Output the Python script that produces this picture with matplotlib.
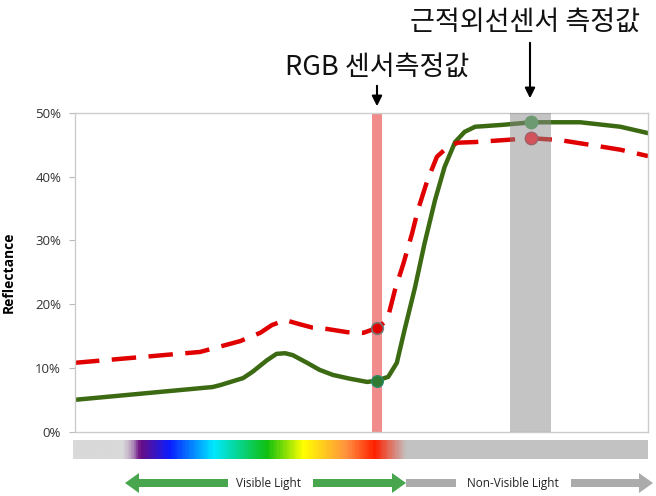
import numpy as np
import matplotlib
matplotlib.use('Agg')
import matplotlib.pyplot as plt
from matplotlib.colors import LinearSegmentedColormap
from matplotlib.patches import FancyArrow

plt.rcParams['font.family'] = ['Open Sans', 'DejaVu Sans']

# reflectance curves (wavelength nm, %)
green_wl = [400, 544, 552, 576, 586, 601, 611, 620, 628, 643, 656, 670, 688, 706, 716,
            728, 737, 745, 756, 766, 777, 787, 798, 808, 819, 829, 848, 878, 929, 971, 1000]
green_refl = [5.0, 7.0, 7.3, 8.4, 9.4, 11.2, 12.2, 12.3, 12.0, 10.8, 9.7, 8.9, 8.3, 7.8, 8.0,
              8.6, 10.8, 15.9, 22.6, 29.5, 36.3, 41.5, 45.4, 47.0, 47.8, 47.9, 48.1, 48.5, 48.5, 47.8, 46.8]

red_wl = [400, 531, 573, 594, 606, 620, 634, 649, 664, 685, 702, 717, 727, 735, 744, 753,
          759, 769, 779, 790, 801, 819, 878, 908, 942, 971, 1000]
red_refl = [10.8, 12.5, 14.2, 15.5, 16.7, 17.5, 16.9, 16.3, 16.1, 15.6, 15.5, 16.3, 17.5, 22.2, 26.4, 31.1,
            34.7, 39.4, 43.1, 44.6, 45.3, 45.4, 46.0, 45.7, 44.9, 44.2, 43.2]

# sensor bands
rgb_band = (711, 721)
nir_band = (855, 898)
rgb_wl = 716
nir_wl = 878

yticks = [0, 10, 20, 30, 40, 50]

# spectrum bar colour stops (fraction along bar, colour)
spec_pos = [0.0, 0.085, 0.10, 0.115, 0.167, 0.243, 0.337, 0.40, 0.476, 0.525, 0.58, 1.0]
spec_col = ['#d9d9d9', '#d9d9d9', '#b89cc0', '#6a0d83', '#0a1eff', '#00e8ff', '#10c010',
            '#ffff00', '#ff9040', '#ff2000', '#c2c2c2', '#c2c2c2']

fig = plt.figure(figsize=(6.56, 4.96), dpi=100)
W, H = 656, 496
ax = fig.add_axes([75 / W, 1 - 431.7 / H, 573 / W, 319 / H])

ax.axvspan(*rgb_band, color='#f08080', alpha=0.9, lw=0, zorder=1)
ax.plot(green_wl, green_refl, color='#3b6a12', lw=3.2, zorder=2, solid_joinstyle='round')
ln, = ax.plot(red_wl, red_refl, color='#e00000', lw=3.2, zorder=2)
ln.set_dashes([5.5, 2.8])
ax.axvspan(*nir_band, color='#8a8a8a', alpha=0.5, lw=0, zorder=3)

g_rgb = np.interp(rgb_wl, green_wl, green_refl)
r_rgb = np.interp(rgb_wl, red_wl, red_refl)
g_nir = np.interp(nir_wl, green_wl, green_refl)
r_nir = np.interp(nir_wl, red_wl, red_refl)
ax.scatter([rgb_wl], [g_rgb], s=70, color='#2f7a2f', edgecolor='#2a8a6a', lw=1, zorder=4)
ax.scatter([rgb_wl], [r_rgb], s=70, color='#e00000', edgecolor='#777777', lw=1.2, zorder=4)
ax.scatter([nir_wl], [g_nir], s=80, color='#6e9a72', edgecolor='#6e9a72', zorder=4)
ax.scatter([nir_wl], [r_nir], s=80, color='#d4525c', edgecolor='#a06068', zorder=4)

ax.set_xlim(400, 1000)
ax.set_ylim(0, 50)
ax.set_yticks(yticks)
ax.set_yticklabels([f'{v}%' for v in yticks], fontsize=9.5, color='#333333')
ax.set_xticks([])
ax.tick_params(axis='y', length=4, color='#bbbbbb', pad=6)
for s in ax.spines.values():
    s.set_color('#cccccc')
    s.set_linewidth(1)
ax.set_ylabel('Reflectance', fontsize=10, fontweight='bold', labelpad=14)

# spectrum bar
cmap = LinearSegmentedColormap.from_list('spec', list(zip(spec_pos, spec_col)))
bax = fig.add_axes([73 / W, 1 - 459 / H, 575 / W, 19 / H])
bax.imshow(np.linspace(0, 1, 600)[None, :], aspect='auto', cmap=cmap, extent=[0, 1, 0, 1])
bax.axis('off')

# overlay in pixel coords for arrows and labels
ov = fig.add_axes([0, 0, 1, 1], facecolor='none')
ov.set_xlim(0, W)
ov.set_ylim(H, 0)
ov.axis('off')

green_a = '#48a64f'
gray_a = '#ababab'
aw = dict(width=8, head_width=20, head_length=14, length_includes_head=True, lw=0)
ov.add_patch(FancyArrow(228, 483, -103, 0, color=green_a, **aw))
ov.add_patch(FancyArrow(313, 483, 93, 0, color=green_a, **aw))
ov.add_patch(FancyArrow(406, 483, 50, 0, color=gray_a, width=8, head_width=0.1, head_length=0.1, lw=0))
ov.add_patch(FancyArrow(571, 483, 82, 0, color=gray_a, **aw))
ov.text(269, 484, 'Visible Light', ha='center', va='center', fontsize=8.5, color='#222222')
ov.text(513, 484, 'Non-Visible Light', ha='center', va='center', fontsize=8.5, color='#222222')

kr = ['Noto Sans CJK KR', 'DejaVu Sans']
ov.text(377, 67, 'RGB 센서측정값', ha='center', va='center', fontsize=19.5, family=kr,
        fontweight='light', color='#111111')
ov.text(525, 22, '근적외선센서 측정값', ha='center', va='center', fontsize=19.5, family=kr,
        fontweight='light', color='#111111')
ov.annotate('', xy=(377, 109), xytext=(377, 83),
            arrowprops=dict(arrowstyle='-|>,head_width=0.3,head_length=0.6', color='black', lw=1.5))
ov.annotate('', xy=(530, 101), xytext=(530, 40),
            arrowprops=dict(arrowstyle='-|>,head_width=0.3,head_length=0.6', color='black', lw=1.5))

fig.savefig('out.png', dpi=100)
